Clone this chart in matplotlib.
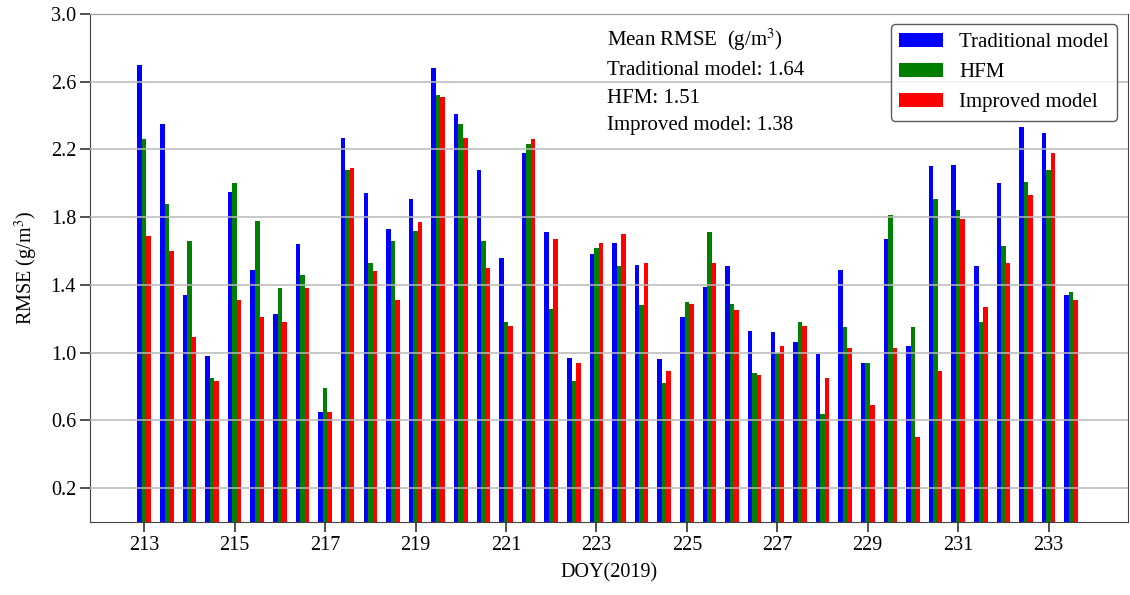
import numpy as np
import matplotlib
matplotlib.use("Agg")
import matplotlib.pyplot as plt

plt.rcParams['font.family'] = ['Liberation Serif', 'DejaVu Serif']
plt.rcParams['mathtext.fontset'] = 'stix'

# day of year, every half day from 213 to 233.5
doy = np.arange(213, 234, 0.5)

traditional = [2.70, 2.35, 1.34, 0.98, 1.95, 1.49, 1.23, 1.64, 0.65,
               2.27, 1.94, 1.73, 1.91, 2.68, 2.41, 2.08, 1.56, 2.18,
               1.71, 0.97, 1.58, 1.65, 1.52, 0.96, 1.21, 1.39, 1.51,
               1.13, 1.12, 1.06, 0.99, 1.49, 0.94, 1.67, 1.04, 2.10,
               2.11, 1.51, 2.00, 2.33, 2.30, 1.34]
hfm = [2.26, 1.88, 1.66, 0.85, 2.00, 1.78, 1.38, 1.46, 0.79,
       2.08, 1.53, 1.66, 1.72, 2.52, 2.35, 1.66, 1.18, 2.23,
       1.26, 0.83, 1.62, 1.51, 1.28, 0.82, 1.30, 1.71, 1.29,
       0.88, 1.00, 1.18, 0.64, 1.15, 0.94, 1.81, 1.15, 1.91,
       1.84, 1.18, 1.63, 2.01, 2.08, 1.36]
improved = [1.69, 1.60, 1.09, 0.83, 1.31, 1.21, 1.18, 1.38, 0.65,
            2.09, 1.48, 1.31, 1.77, 2.51, 2.27, 1.50, 1.16, 2.26,
            1.67, 0.94, 1.65, 1.70, 1.53, 0.89, 1.29, 1.53, 1.25,
            0.87, 1.04, 1.16, 0.85, 1.03, 0.69, 1.03, 0.50, 0.89,
            1.79, 1.27, 1.53, 1.93, 2.18, 1.31]

fig = plt.figure(figsize=(11.3, 5.95), dpi=100)
ax = fig.add_axes([0.0796, 0.1227, 0.9184, 0.8538])

w = 0.1
ax.bar(doy - w, traditional, w, color='#0000ff', label='Traditional model')
ax.bar(doy, hfm, w, color='#008000', label='HFM')
ax.bar(doy + w, improved, w, color='#ff0000', label='Improved model')

ax.set_xlim(211.8, 234.75)
ax.set_ylim(0, 3.0)
ax.set_xticks(np.arange(213, 234, 2))
ax.set_yticks([0.2, 0.6, 1.0, 1.4, 1.8, 2.2, 2.6, 3.0])
ax.tick_params(labelsize=14.5, length=7, width=1.2, direction='out',
               color='#333333', pad=3)
ax.yaxis.grid(True, color='#b8b8b8', linewidth=1.1)
ax.set_axisbelow(False)
for s in ax.spines.values():
    s.set_color('#444444')

ax.set_xlabel('DOY(2019)', fontsize=14.5, labelpad=6)
ax.set_ylabel('RMSE (g/m$^3$)', fontsize=14.5, labelpad=8)

ax.legend(loc='upper right', fontsize=15, handlelength=2.1,
          borderaxespad=0.5, fancybox=True, edgecolor='#333333')

ax.text(0.498, 0.975,
        'Mean RMSE  (g/m$^3$)\nTraditional model: 1.64\nHFM: 1.51\nImproved model: 1.38',
        transform=ax.transAxes, fontsize=15, va='top', ha='left',
        linespacing=1.6)

fig.savefig('out.png', dpi=100)
